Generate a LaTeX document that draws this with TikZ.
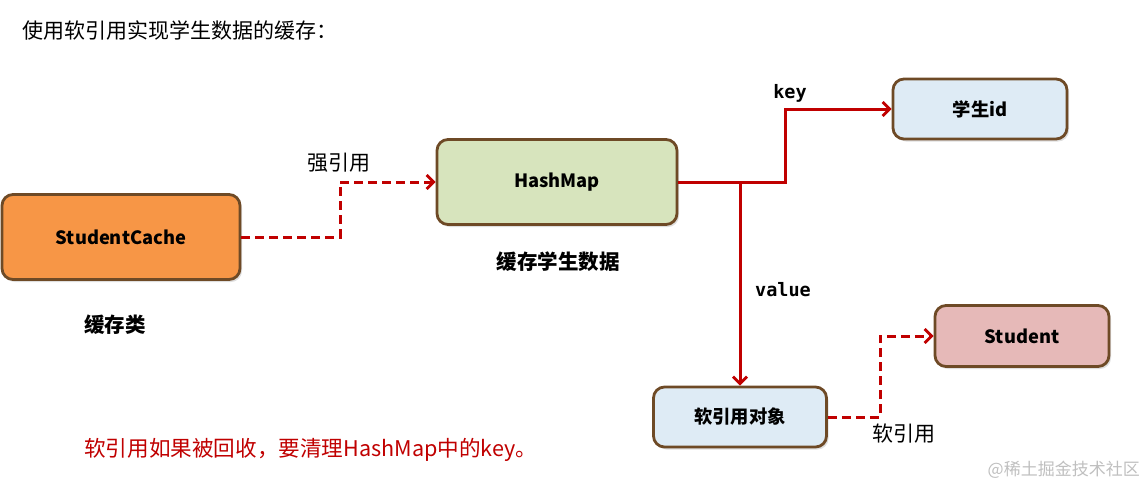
\documentclass[tikz,border=0pt]{standalone}
\usepackage{fontspec}
\setmainfont{Noto Sans CJK SC}
\setmonofont{DejaVu Sans Mono}
\usetikzlibrary{arrows.meta,shadows}
\definecolor{lnred}{HTML}{C00000}
\definecolor{bord}{HTML}{6E4A26}
\definecolor{orangef}{HTML}{F79646}
\definecolor{greenf}{HTML}{D7E4BD}
\definecolor{bluef}{HTML}{DEEBF5}
\definecolor{pinkf}{HTML}{E6B9B8}
\begin{document}
\begin{tikzpicture}[x=1pt,y=-1pt,
  box/.style={draw=bord, line width=2.8pt, rounded corners=11pt, inner sep=0pt,
    font=\fontsize{18.3}{22}\selectfont\bfseries,
    drop shadow={shadow xshift=2pt, shadow yshift=-2.5pt, opacity=0.25, fill=gray}},
  conn/.style={draw=lnred, line width=3pt, -{Straight Barb[length=7pt,width=14pt,line width=2.8pt]}},
  dconn/.style={conn, dash pattern=on 9pt off 5pt},
  lbl/.style={font=\fontsize{21}{25}\selectfont, inner sep=0pt},
  blbl/.style={font=\fontsize{20.5}{24}\selectfont\bfseries, inner sep=0pt},
  mlbl/.style={font=\fontsize{18.5}{22}\selectfont\ttfamily\bfseries, inner sep=0pt}]
\useasboundingbox (0,0) rectangle (1145,488);

\node[lbl, anchor=west] (title) at (22,30) {使用软引用实现学生数据的缓存：};

\node[box, fill=orangef, minimum width=238pt, minimum height=85pt] (sc) at (121,237) {StudentCache};
\node[box, fill=greenf, minimum width=240pt, minimum height=85pt] (hm) at (557,182) {HashMap};
\node[box, fill=bluef, minimum width=174pt, minimum height=60pt] (sid) at (980,109) {学生id};
\node[box, fill=pinkf, minimum width=174pt, minimum height=61pt] (stu) at (1022,336) {Student};
\node[box, fill=bluef, minimum width=173pt, minimum height=60pt] (soft) at (740,417) {软引用对象};

\node[blbl] (sclbl) at (115,325) {缓存类};
\node[blbl] (hmlbl) at (558,262) {缓存学生数据};
\node[lbl] (strong) at (339,163) {强引用};
\node[mlbl] (key) at (790,93) {key};
\node[mlbl] (val) at (783,290) {value};
\node[lbl] (softlbl) at (904,434) {软引用};
\node[font=\fontsize{21.6}{26}\selectfont, inner sep=0pt, anchor=west, text=lnred] (note) at (84,450) {软引用如果被回收，要清理HashMap中的key。};
\node[font=\fontsize{17}{20}\selectfont, text=black!25, anchor=east, inner sep=0pt] (wm) at (1140,470) {@稀土掘金技术社区};

\coordinate (t1) at (340,237);
\coordinate (kturn) at (785,182);
\coordinate (vb) at (740,182);
\coordinate (t2) at (880,417);

\draw[dconn] (sc.east) -- (t1) |- (hm.west);
\draw[conn] (hm.east) -- (kturn) |- (sid.west);
\draw[conn] (vb) -- (vb |- soft.north);
\draw[dconn] (soft.east) -- (t2) |- (stu.west);
\end{tikzpicture}
\end{document}
